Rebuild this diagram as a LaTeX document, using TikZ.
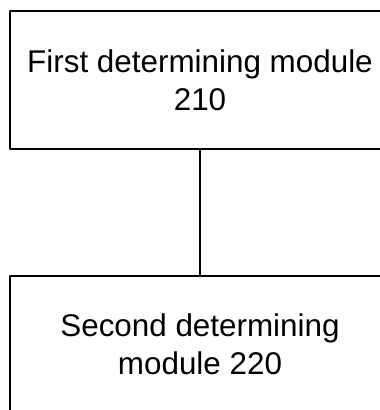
\documentclass[tikz,border=0pt]{standalone}
\usepackage{fontspec}
\setmainfont{Liberation Sans}
\usetikzlibrary{positioning}

\begin{document}
\begin{tikzpicture}[x=1pt,y=1pt,line join=round,line cap=round,
  modbox/.style={draw,line width=1.6pt,minimum width=380pt,minimum height=138pt,align=center,inner sep=0pt,font=\fontsize{31.4}{38}\selectfont}]
\useasboundingbox (0,0) rectangle (380,410);
\node[modbox] (M1) at (200,330) {First determining module\\210};
\node[modbox,minimum height=136pt] (M2) at (200,66) {Second determining\\module 220};
\draw[line width=1.6pt] (M1)--(M2);
\end{tikzpicture}
\end{document}
